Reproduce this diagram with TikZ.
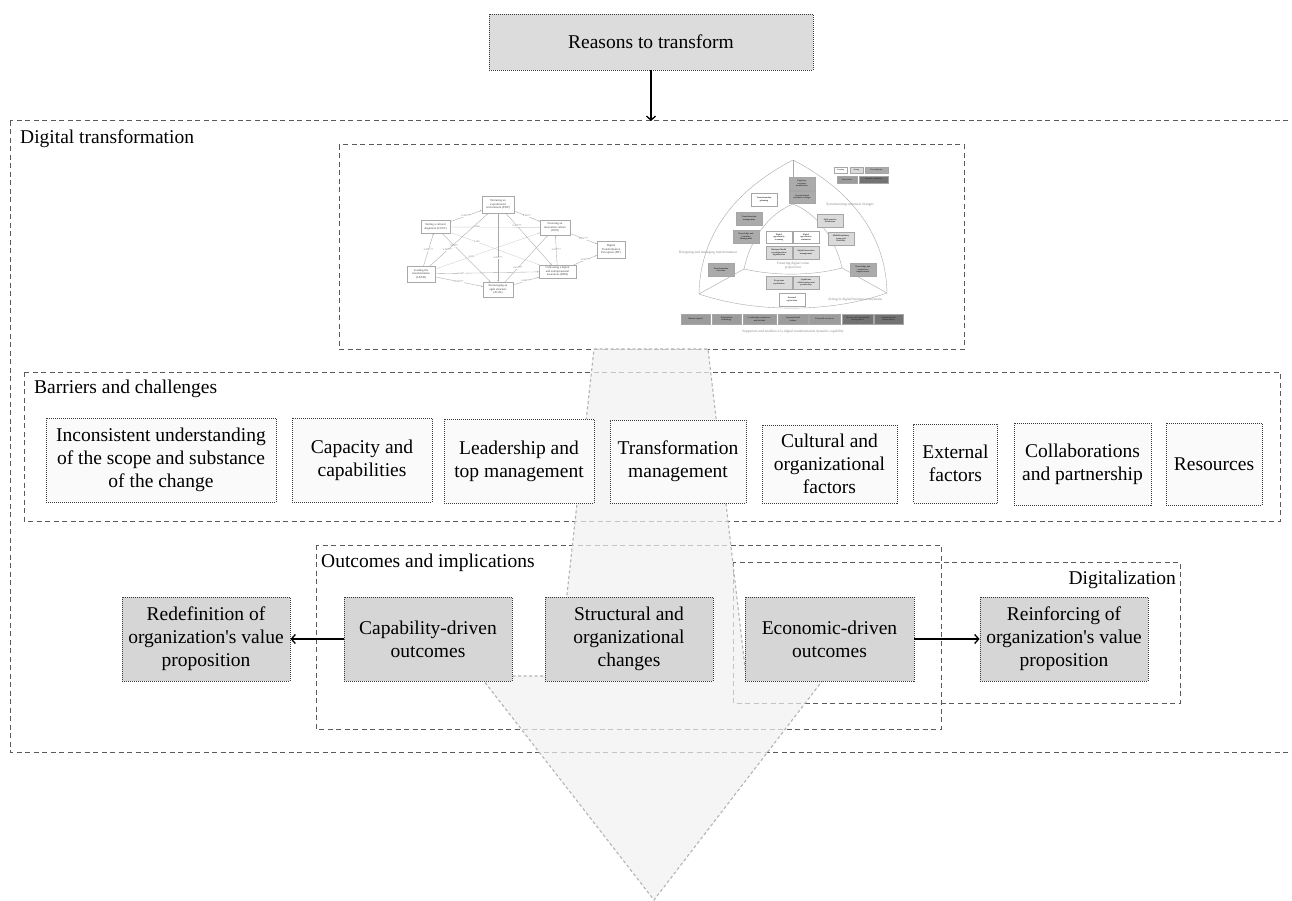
\documentclass[tikz,border=0pt]{standalone}
\usepackage{fontspec}
\setmainfont{Liberation Serif}
\usetikzlibrary{arrows.meta}

\definecolor{dashgray}{HTML}{5A5A5A}
\definecolor{dotgray}{HTML}{3A3A3A}
\definecolor{palefill}{HTML}{FAFAFA}
\definecolor{boxgray}{HTML}{D6D6D6}
\definecolor{arrowedge}{HTML}{B4B4B4}
\definecolor{arrowfill}{HTML}{F2F2F2}
\definecolor{figline}{HTML}{A8A8A8}
\definecolor{figtext}{HTML}{8A8A8A}
\definecolor{capwhite}{HTML}{FFFFFF}
\definecolor{caplight}{HTML}{DADADA}
\definecolor{capmid}{HTML}{ABABAB}
\definecolor{capante}{HTML}{9C9C9C}
\definecolor{capdark}{HTML}{737373}

\newcommand\dgmsize{\fontsize{19.5}{23}\selectfont}

\begin{document}
\begin{tikzpicture}[x=1pt,y=-1pt,
  container/.style={draw=dashgray, line width=1pt, dash pattern=on 5pt off 3.5pt},
  boxbase/.style={draw=dotgray, line width=0.9pt, dash pattern=on 1pt off 1pt,
    align=center, inner sep=0pt, font=\dgmsize},
  pale/.style={boxbase, fill=palefill},
  grey/.style={boxbase, fill=boxgray},
  lbl/.style={font=\dgmsize, inner sep=0pt},
  link/.style={line width=1.3pt, -{Straight Barb[length=4pt,width=9pt]}},
  % small network figure
  nbox/.style={draw=figline, line width=0.35pt, fill=white, align=center,
    inner sep=0.4pt, font=\fontsize{3}{3.5}\selectfont, text=black!75},
  nlink/.style={draw=figline, line width=0.35pt, -{Stealth[length=1.6pt,width=1.4pt]}},
  nweak/.style={nlink, draw=figline!55},
  coef/.style={font=\fontsize{2.4}{2.4}\selectfont, text=black!60, fill=white, inner sep=0.2pt},
  % capability figure
  arcline/.style={draw=figline, line width=0.4pt},
  cbox/.style={draw=black!35, line width=0.3pt, align=center, inner sep=0.2pt,
    minimum width=26, minimum height=12.5, font=\fontsize{2.2}{2.5}\selectfont\bfseries, text=black!80},
  cleg/.style={cbox, minimum height=6.5, font=\fontsize{1.9}{2}\selectfont\bfseries},
  crow/.style={cbox, minimum height=10},
  glab/.style={font=\fontsize{3.6}{4.2}\selectfont, text=figtext, align=center, inner sep=0pt}
]
\useasboundingbox (0,0) rectangle (1292,901);
\fill[white] (0,0) rectangle (1292,901);

% ---------- containers ----------
\draw[container] (10,121) rectangle (1310,752);
\coordinate (dtTop) at (651,121);
\node[lbl, anchor=base west] (dtLabel) at (20,144) {Digital transformation};

\draw[container] (339,145) rectangle (964,349);

\draw[container] (24,372) rectangle (1280,521);
\node[lbl, anchor=base west] (bcLabel) at (34,393) {Barriers and challenges};

\draw[container] (316,545) rectangle (941,729);
\node[lbl, anchor=base west] (oiLabel) at (321,567) {Outcomes and implications};

\draw[container] (733,562) rectangle (1180,703);
\node[lbl, anchor=base east] (dgLabel) at (1176,584) {Digitalization};

% ---------- network figure ----------
\node[nbox, minimum width=32, minimum height=17] (exp) at (498,204.5) {Nurturing an\\experimental\\environment (EXP)};
\node[nbox, minimum width=29, minimum height=13] (cult) at (435.5,227) {Setting a cultural\\alignment (CULT)};
\node[nbox, minimum width=30, minimum height=15] (inn) at (555,227.5) {Fostering an\\innovation culture\\(INN)};
\node[nbox, minimum width=28, minimum height=17] (dt) at (611,249.5) {Digital\\Transformation\\Perception (DT)};
\node[nbox, minimum width=28, minimum height=16] (lead) at (421,274) {Leading the\\transformation\\(LEAD)};
\node[nbox, minimum width=37, minimum height=13] (digi) at (557.5,271.5) {Cultivating a digital\\and entrepreneurial\\awareness (DIGI)};
\node[nbox, minimum width=30, minimum height=15] (agil) at (498,289.5) {Encouraging an\\agile structure\\(AGIL)};

\draw[nlink] (cult) -- node[coef] {0.381***} (exp);
\draw[nlink] (exp) -- node[coef] {0.220**} (inn);
\draw[nweak] (cult) -- node[coef, pos=0.3] {0.066} (inn);
\draw[nweak] (cult) -- node[coef, pos=0.3] {0.126} (digi);
\draw[nlink] (cult) -- node[coef, pos=0.25] {0.240**} (agil);
\draw[nlink] (lead) -- node[coef] {0.302***} (cult);
\draw[nlink] (lead) -- node[coef, pos=0.3] {0.285***} (exp);
\draw[nweak] (lead) -- node[coef, pos=0.35] {0.025} (inn);
\draw[nlink] (lead) -- node[coef, pos=0.25] {0.115*} (digi);
\draw[nlink] (lead) -- node[coef] {0.532***} (agil);
\draw[nlink] (exp) -- node[coef, pos=0.65] {0.291***} (agil);
\draw[nlink] (exp) -- node[coef, pos=0.25] {0.420***} (digi);
\draw[nlink] (agil) -- node[coef, pos=0.3] {0.231***} (inn);
\draw[nlink] (agil) -- node[coef] {0.456***} (digi);
\draw[nlink] (digi) -- node[coef] {0.338***} (inn);
\draw[nlink] (inn) -- node[coef] {0.251***} (dt);
\draw[nlink] (digi) -- node[coef] {0.323***} (dt);

% ---------- capability figure ----------
\coordinate (rA) at (793,160);
\coordinate (rB) at (699,294);
\coordinate (rC) at (887,293);
\coordinate (rP) at (793,204);
\coordinate (rQ) at (744,269);
\coordinate (rR) at (842,268);
\draw[arcline] (rA) .. controls (735,190) and (700,235) .. (rB)
  .. controls (755,313) and (831,313) .. (rC)
  .. controls (886,235) and (851,190) .. (rA);
\draw[arcline] (rP) .. controls (768,214) and (750,240) .. (rQ)
  .. controls (775,276) and (811,276) .. (rR)
  .. controls (836,240) and (818,214) .. (rP);
\draw[arcline] (rA) -- (rP);
\draw[arcline] (rB) -- (rQ);
\draw[arcline] (rC) -- (rR);

\node[glab] (gSys) at (850,205) {Systematizing structural changes};
\node[glab] (gDes) at (708,253) {Designing and managing transformation};
\node[glab] (gFos) at (793,266) {Fostering digital value\\proposition};
\node[glab] (gAct) at (855,300) {Acting in digital business ecosystems};
\node[glab] (gSup) at (793,332) {Supporters and enablers of a digital transformation dynamic capability};

\node[cleg, fill=capwhite, minimum width=13] (lgCre) at (840.5,170) {Creating};
\node[cleg, fill=caplight, minimum width=13] (lgSei) at (856.5,170) {Seizing};
\node[cleg, fill=capmid, minimum width=23] (lgRec) at (876.5,170) {Reconfiguring};
\node[cleg, fill=capante, minimum width=20] (lgAnt) at (847,179.5) {Antecedents};
\node[cleg, fill=capdark, minimum width=29] (lgDyn) at (873.5,179.5) {Dynamic capabilities};

\node[cbox, fill=capmid] (cEmp) at (802,183.5) {Employee\\structure\\modification};
\node[cbox, fill=capmid] (cOrg) at (802,197) {Organizational\\structure redesign};
\node[cbox, fill=capwhite] (cPla) at (764,199.5) {Transformation\\planning};
\node[cbox, fill=capmid] (cMan) at (749,218.5) {Transformation\\management};
\node[cbox, fill=capmid] (cKlm) at (746,236.5) {Knowledge and\\Learning\\Management};
\node[cbox, fill=caplight] (cAgi) at (830,220.5) {Agile practice\\orientation};
\node[cbox, fill=caplight] (cMul) at (841,238.5) {Multidisciplinary\\teams and\\flexibility};
\node[cbox, fill=capwhite, minimum height=12] (cScn) at (779,237) {Digital\\opportunity\\scanning};
\node[cbox, fill=capwhite, minimum height=12] (cEva) at (806,237) {Digital\\opportunity\\evaluation};
\node[cbox, fill=caplight] (cBmr) at (779,252.5) {Business Model\\reconfiguration/\\digitalization};
\node[cbox, fill=caplight] (cDim) at (806,252.5) {Digital innovation\\management};
\node[cbox, fill=capmid] (cExe) at (721,269.5) {Transformation\\execution};
\node[cbox, fill=capmid] (cKci) at (863,269.5) {Knowledge and\\competence\\improvement};
\node[cbox, fill=caplight] (cEco) at (779,282.5) {Ecosystem\\exploitation};
\node[cbox, fill=caplight] (cSig) at (806,282.5) {Significant\\collaborations and\\partnership};
\node[cbox, fill=capwhite] (cExt) at (792,299.5) {External\\exploration};

\node[crow, fill=capante, minimum width=29] (sHum) at (695.5,319) {Human capital};
\node[crow, fill=capante, minimum width=29] (sInf) at (726.5,319) {Information\\technology};
\node[crow, fill=capante, minimum width=33] (sLea) at (759.5,319) {Leadership competence\\and attitude};
\node[crow, fill=capante, minimum width=30] (sCul) at (793,319) {Organizational\\culture};
\node[crow, fill=capante, minimum width=31] (sFin) at (824.5,319) {Financial resources};
\node[crow, fill=capdark, minimum width=31] (sPro) at (857.5,319) {Process and operational\\management};
\node[crow, fill=capdark, minimum width=29] (sOrm) at (888.5,319) {Organizational\\management};

% ---------- large translucent arrow ----------
\coordinate (aTL) at (594,349);
\coordinate (aTR) at (708,349);
\coordinate (aSR) at (746,676);
\coordinate (aHR) at (826,676);
\coordinate (aTip) at (654,900);
\coordinate (aHL) at (480,676);
\coordinate (aSL) at (558,676);
\fill[arrowfill, fill opacity=0.7]
  (aTL) -- (aTR) -- (aSR) -- (aHR) -- (aTip) -- (aHL) -- (aSL) -- cycle;
\draw[arrowedge, line width=1.1pt, dash pattern=on 3pt off 2.5pt]
  (aTL) -- (aTR) -- (aSR) -- (aHR) -- (aTip) -- (aHL) -- (aSL) -- cycle;

% ---------- reasons ----------
\node[grey, fill=boxgray!85!white, minimum width=324, minimum height=56] (reasons) at (651,42) {Reasons to transform};
\draw[link] (reasons.south) -- (dtTop);

% ---------- barriers ----------
\node[pale, minimum width=230, minimum height=84] (b1) at (161,460) {Inconsistent understanding\\of the scope and substance\\of the change};
\node[pale, minimum width=140, minimum height=84] (b2) at (362,460) {Capacity and\\capabilities};
\node[pale, minimum width=150, minimum height=84] (b3) at (519,461) {Leadership and\\top management};
\node[pale, minimum width=136, minimum height=83] (b4) at (678,461.5) {Transformation\\management};
\node[pale, minimum width=135, minimum height=78] (b5) at (829.5,464) {Cultural and\\organizational\\factors};
\node[pale, minimum width=84, minimum height=79] (b6) at (955.5,463.5) {External\\factors};
\node[pale, minimum width=137, minimum height=82] (b7) at (1082.5,464) {Collaborations\\and partnership};
\node[pale, minimum width=96, minimum height=82] (b8) at (1214,464) {Resources};

% ---------- outcomes ----------
\node[grey, minimum width=168, minimum height=84] (redef) at (206,639) {Redefinition of\\organization\textquotesingle s value\\proposition};
\node[grey, minimum width=168, minimum height=84] (capab) at (428,639) {Capability-driven\\outcomes};
\node[grey, minimum width=168, minimum height=84] (struct) at (629,639) {Structural and\\organizational\\changes};
\node[grey, minimum width=169, minimum height=84] (econ) at (829.5,639) {Economic-driven\\outcomes};
\node[grey, minimum width=168, minimum height=84] (reinf) at (1064,639) {Reinforcing of\\organization\textquotesingle s value\\proposition};

\draw[link] (capab.west) -- (redef.east);
\draw[link] (econ.east) -- (reinf.west);
\end{tikzpicture}
\end{document}
